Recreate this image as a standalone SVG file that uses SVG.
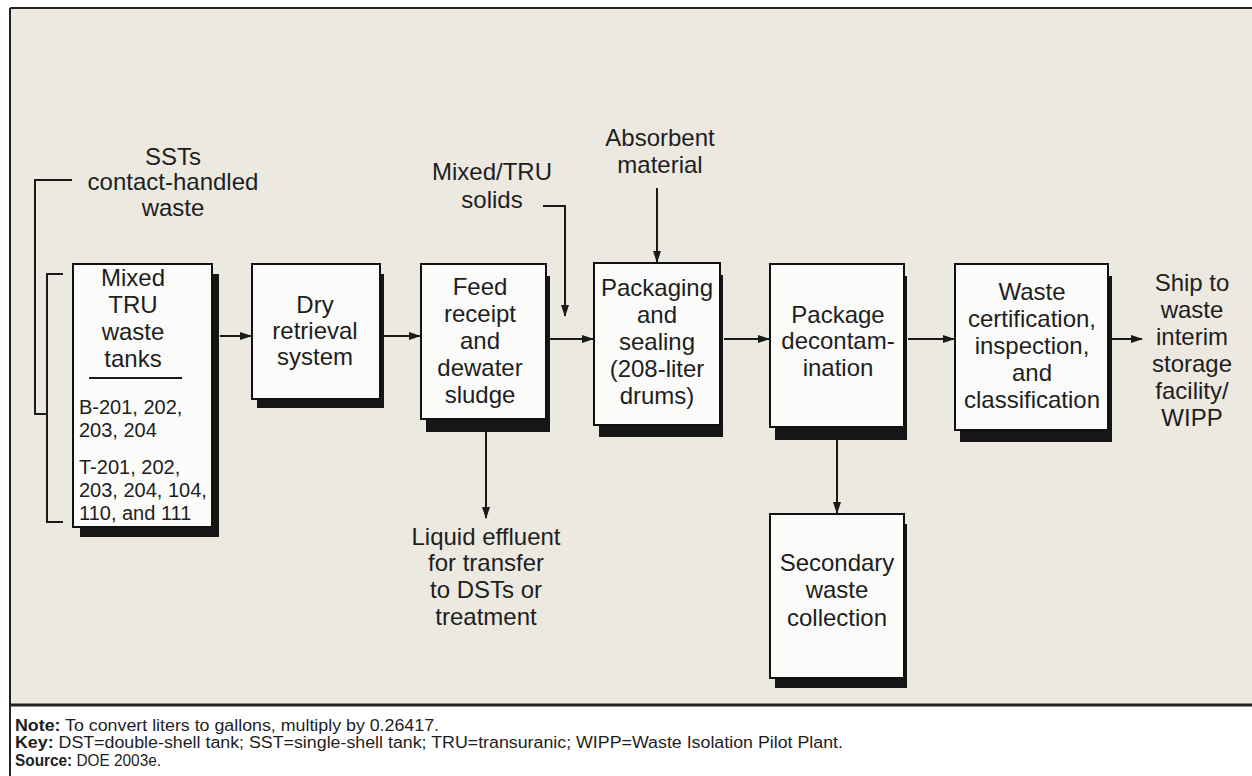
<svg xmlns="http://www.w3.org/2000/svg" width="1252" height="776" viewBox="0 0 1252 776">
<defs>
<style>
.t{font-family:"Liberation Sans",Arial,sans-serif;font-size:24px;fill:#1e1e1e;text-anchor:middle}
.s{font-family:"Liberation Sans",Arial,sans-serif;font-size:20px;fill:#1e1e1e}
.f{font-family:"Liberation Sans",Arial,sans-serif;font-size:16px;fill:#1e1e1e}
.box{fill:#fbfbf9;stroke:#111;stroke-width:2}
.sh{fill:#161616}
.ln{fill:none;stroke:#1a1a1a;stroke-width:2}
</style>
<marker id="ah" markerWidth="12" markerHeight="10" refX="11" refY="5" orient="auto" markerUnits="userSpaceOnUse">
<path d="M0,1 L12,5 L0,9 Z" fill="#1a1a1a"/>
</marker>
</defs>
<rect x="0" y="0" width="1252" height="776" fill="#ffffff"/>
<rect x="10" y="8" width="1242" height="697" fill="#ECE9E1"/>
<line x1="10" y1="8" x2="1252" y2="8" stroke="#222" stroke-width="2"/>
<line x1="10" y1="8" x2="10" y2="776" stroke="#222" stroke-width="2"/>
<line x1="10" y1="705" x2="1252" y2="705" stroke="#222" stroke-width="3"/>

<g id="connectors">
<polyline class="ln" points="72,180 35,180 35,414 47,414"/>
<polyline class="ln" points="63,274 47,274 47,522 63,522"/>
<line class="ln" x1="220" y1="336" x2="251" y2="336" marker-end="url(#ah)"/>
<line class="ln" x1="384" y1="336" x2="420" y2="336" marker-end="url(#ah)"/>
<line class="ln" x1="550" y1="339" x2="593" y2="339" marker-end="url(#ah)"/>
<line class="ln" x1="724" y1="339" x2="769" y2="339" marker-end="url(#ah)"/>
<line class="ln" x1="908" y1="339" x2="954" y2="339" marker-end="url(#ah)"/>
<line class="ln" x1="1112" y1="339" x2="1142" y2="339" marker-end="url(#ah)"/>
<polyline class="ln" points="543,206 565,206 565,316" marker-end="url(#ah)"/>
<line class="ln" x1="657" y1="188" x2="657" y2="262" marker-end="url(#ah)"/>
<line class="ln" x1="486" y1="432" x2="486" y2="518" marker-end="url(#ah)"/>
<line class="ln" x1="837" y1="440" x2="837" y2="513" marker-end="url(#ah)"/>
</g>

<g id="sst-label">
<text class="t" x="173" y="165">SSTs</text>
<text class="t" x="173" y="190">contact-handled</text>
<text class="t" x="173" y="216">waste</text>
</g>

<g id="tanks">
<rect class="sh" x="80" y="274" width="139" height="263"/>
<rect class="box" x="73" y="264" width="139" height="263"/>
<text class="t" x="133" y="286">Mixed</text>
<text class="t" x="133" y="313">TRU</text>
<text class="t" x="133" y="340">waste</text>
<text class="t" x="133" y="367">tanks</text>
<line x1="89" y1="378" x2="182" y2="378" stroke="#1a1a1a" stroke-width="2"/>
<text class="s" x="79" y="414">B-201, 202,</text>
<text class="s" x="79" y="437">203, 204</text>
<text class="s" x="79" y="474">T-201, 202,</text>
<text class="s" x="79" y="497">203, 204, 104,</text>
<text class="s" x="79" y="520">110, and 111</text>
</g>

<g id="dry">
<rect class="sh" x="257" y="274" width="127" height="134"/>
<rect class="box" x="252" y="264" width="128" height="135"/>
<text class="t" x="315" y="313">Dry</text>
<text class="t" x="315" y="339">retrieval</text>
<text class="t" x="315" y="365">system</text>
</g>

<g id="feed">
<rect class="sh" x="426" y="276" width="124" height="156"/>
<rect class="box" x="421" y="264" width="125" height="155"/>
<text class="t" x="480" y="295">Feed</text>
<text class="t" x="480" y="322">receipt</text>
<text class="t" x="480" y="349">and</text>
<text class="t" x="480" y="376">dewater</text>
<text class="t" x="480" y="403">sludge</text>
</g>

<g id="solids-label">
<text class="t" x="492" y="180">Mixed/TRU</text>
<text class="t" x="492" y="208">solids</text>
</g>

<g id="absorbent-label">
<text class="t" x="660" y="146">Absorbent</text>
<text class="t" x="660" y="173">material</text>
</g>

<g id="packaging">
<rect class="sh" x="599" y="275" width="124" height="162"/>
<rect class="box" x="594" y="263" width="126" height="162"/>
<text class="t" x="657" y="296">Packaging</text>
<text class="t" x="657" y="323">and</text>
<text class="t" x="657" y="350">sealing</text>
<text class="t" x="657" y="377">(208-liter</text>
<text class="t" x="657" y="404">drums)</text>
</g>

<g id="liquid-label">
<text class="t" x="486" y="545">Liquid effluent</text>
<text class="t" x="486" y="571">for transfer</text>
<text class="t" x="486" y="598">to DSTs or</text>
<text class="t" x="486" y="625">treatment</text>
</g>

<g id="decon">
<rect class="sh" x="775" y="276" width="132" height="164"/>
<rect class="box" x="770" y="264" width="134" height="163"/>
<text class="t" x="838" y="323">Package</text>
<text class="t" x="838" y="349">decontam-</text>
<text class="t" x="838" y="376">ination</text>
</g>

<g id="certification">
<rect class="sh" x="960" y="276" width="152" height="166"/>
<rect class="box" x="955" y="264" width="153" height="166"/>
<text class="t" x="1032" y="300">Waste</text>
<text class="t" x="1032" y="327">certification,</text>
<text class="t" x="1032" y="354">inspection,</text>
<text class="t" x="1032" y="381">and</text>
<text class="t" x="1032" y="408">classification</text>
</g>

<g id="ship-label">
<text class="t" x="1192" y="291">Ship to</text>
<text class="t" x="1192" y="318">waste</text>
<text class="t" x="1192" y="345">interim</text>
<text class="t" x="1192" y="372">storage</text>
<text class="t" x="1192" y="399">facility/</text>
<text class="t" x="1192" y="426">WIPP</text>
</g>

<g id="secondary">
<rect class="sh" x="775" y="524" width="132" height="164"/>
<rect class="box" x="770" y="514" width="134" height="164"/>
<text class="t" x="837" y="571">Secondary</text>
<text class="t" x="837" y="598">waste</text>
<text class="t" x="837" y="626">collection</text>
</g>

<g id="footer">
<text class="f" x="15" y="731" textLength="424" lengthAdjust="spacingAndGlyphs"><tspan font-weight="bold">Note:</tspan>  To convert liters to gallons, multiply by 0.26417.</text>
<text class="f" x="15" y="748" textLength="828" lengthAdjust="spacingAndGlyphs"><tspan font-weight="bold">Key:</tspan>  DST=double-shell tank; SST=single-shell tank; TRU=transuranic; WIPP=Waste Isolation Pilot Plant.</text>
<text class="f" x="15" y="766" textLength="146" lengthAdjust="spacingAndGlyphs"><tspan font-weight="bold">Source:</tspan> DOE 2003e.</text>
</g>
</svg>
